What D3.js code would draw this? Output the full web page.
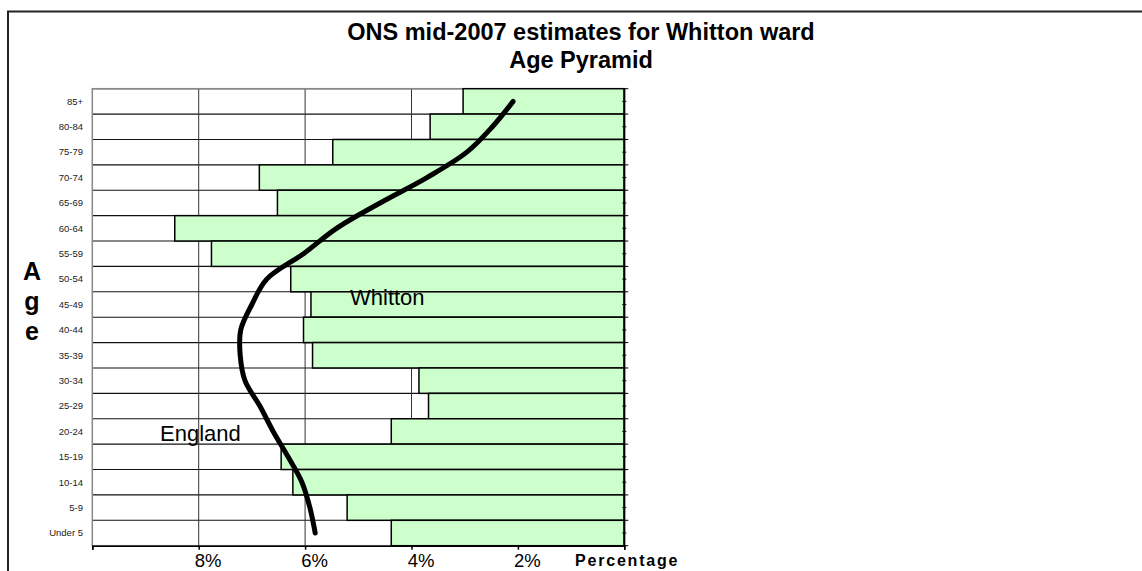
<!DOCTYPE html>
<html>
<head>
<meta charset="utf-8">
<script src="https://cdn.jsdelivr.net/npm/d3@7"></script>
<style>
  html, body { margin: 0; padding: 0; background: #fff; }
  svg { display: block; font-family: Arial, "Liberation Sans", sans-serif; }
</style>
</head>
<body>
<svg id="chart" width="1142" height="571"></svg>
<script>
// ---- Data ----
const categories = ["85+","80-84","75-79","70-74","65-69","60-64","55-59","50-54","45-49","40-44","35-39","30-34","25-29","20-24","15-19","10-14","5-9","Under 5"];
const whittonValues = [3.03,3.65,5.48,6.86,6.52,8.45,7.76,6.27,5.89,6.03,5.86,3.86,3.68,4.38,6.45,6.23,5.21,4.38];
const englandValues = [2.09,2.48,2.96,3.71,4.59,5.41,6.03,6.72,7.00,7.21,7.22,7.13,6.85,6.60,6.32,6.06,5.91,5.81];
const xTickValues = [10,8,6,4,2,0];
const xTickLabels = ["","8%","6%","4%","2%",""];
const titleLines = ["ONS mid-2007 estimates for Whitton ward","Age Pyramid"];
const yTitleLetters = ["A","g","e"];
const xTitle = "Percentage";

// ---- Layout ----
const svg = d3.select("#chart");
const plot = { left: 92.3, right: 624.3, top: 88.7, bottom: 545.7 };

const x = d3.scaleLinear().domain([10, 0]).range([plot.left, plot.right]);
const y = d3.scaleBand().domain(categories).range([plot.top, plot.bottom]).padding(0);

// outer chart border
svg.append("rect")
  .attr("x", 8).attr("y", 11.5).attr("width", 1200).attr("height", 700)
  .attr("fill", "#fff").attr("stroke", "#222").attr("stroke-width", 2);

// plot area background
svg.append("rect")
  .attr("x", plot.left).attr("y", plot.top)
  .attr("width", plot.right - plot.left).attr("height", plot.bottom - plot.top)
  .attr("fill", "#fff");

// horizontal gridlines at category boundaries
const boundaries = categories.map(c => y(c)).concat([plot.bottom]);
svg.append("g").selectAll("line").data(boundaries).join("line")
  .attr("x1", plot.left).attr("x2", plot.right)
  .attr("y1", d => d).attr("y2", d => d)
  .attr("stroke", "#111").attr("stroke-width", 1.1);

// vertical gridlines
svg.append("g").selectAll("line").data([8,6,4,2]).join("line")
  .attr("x1", d => x(d)).attr("x2", d => x(d))
  .attr("y1", plot.top).attr("y2", plot.bottom)
  .attr("stroke", "#333").attr("stroke-width", 1);

// plot border (grey)
svg.append("rect")
  .attr("x", plot.left).attr("y", plot.top)
  .attr("width", plot.right - plot.left).attr("height", plot.bottom - plot.top)
  .attr("fill", "none").attr("stroke", "#888").attr("stroke-width", 1.5);

// Whitton bars
svg.append("g").selectAll("rect").data(categories).join("rect")
  .attr("x", (c, i) => x(whittonValues[i]))
  .attr("y", c => y(c))
  .attr("width", (c, i) => x(0) - x(whittonValues[i]))
  .attr("height", y.bandwidth())
  .attr("fill", "#CCFFCC")
  .attr("stroke", "#000").attr("stroke-width", 1.5);

// bottom axis
const xAxis = d3.axisBottom(x).tickValues(xTickValues)
  .tickFormat((d, i) => xTickLabels[i]).tickSizeOuter(0).tickSize(4);
const gx = svg.append("g").attr("transform", `translate(0,${plot.bottom})`).call(xAxis);
gx.select(".domain").attr("stroke", "#000").attr("stroke-width", 1.5);
gx.selectAll(".tick line").attr("stroke", "#000").attr("stroke-width", 1.5);
gx.selectAll(".tick text")
  .attr("font-size", 18.5).attr("font-family", "Arial, 'Liberation Sans', sans-serif")
  .attr("fill", "#000").attr("y", 8).attr("dy", "0.71em").attr("dx", 9);

// right axis (category axis at 0)
const yAxisLine = svg.append("g");
yAxisLine.append("line")
  .attr("x1", plot.right).attr("x2", plot.right)
  .attr("y1", plot.top).attr("y2", plot.bottom)
  .attr("stroke", "#000").attr("stroke-width", 2);
yAxisLine.selectAll("line.major").data(boundaries).join("line").attr("class", "major")
  .attr("x1", plot.right).attr("x2", plot.right + 4)
  .attr("y1", d => d).attr("y2", d => d)
  .attr("stroke", "#000").attr("stroke-width", 1);
yAxisLine.selectAll("line.minor").data(categories).join("line").attr("class", "minor")
  .attr("x1", plot.right - 2).attr("x2", plot.right + 2)
  .attr("y1", c => y(c) + y.bandwidth() / 2).attr("y2", c => y(c) + y.bandwidth() / 2)
  .attr("stroke", "#000").attr("stroke-width", 1);

// category labels on the left
svg.append("g").selectAll("text").data(categories).join("text")
  .attr("x", 83).attr("y", c => y(c) + y.bandwidth() / 2)
  .attr("dy", "0.35em").attr("text-anchor", "end")
  .attr("font-size", 9.5).attr("fill", "#222")
  .text(c => c);

// England curve
const line = d3.line()
  .x(d => x(d.v))
  .y(d => y(d.c) + y.bandwidth() / 2)
  .curve(d3.curveCatmullRom.alpha(0.5));
svg.append("path")
  .datum(categories.map((c, i) => ({ c, v: englandValues[i] })))
  .attr("d", line)
  .attr("fill", "none").attr("stroke", "#000")
  .attr("stroke-width", 5).attr("stroke-linecap", "round").attr("stroke-linejoin", "round");

// series labels
svg.append("text").attr("x", 350).attr("y", 305)
  .attr("font-size", 22).attr("fill", "#000").text("Whitton");
svg.append("text").attr("x", 160).attr("y", 441)
  .attr("font-size", 22).attr("fill", "#000").text("England");

// title
svg.append("g").selectAll("text").data(titleLines).join("text")
  .attr("x", 581).attr("y", (d, i) => 40 + i * 28)
  .attr("text-anchor", "middle").attr("font-weight", "bold")
  .attr("font-size", 23.5).attr("fill", "#000")
  .text(d => d);

// y axis title (stacked letters)
svg.append("g").selectAll("text").data(yTitleLetters).join("text")
  .attr("x", 32).attr("y", (d, i) => 280 + i * 30)
  .attr("text-anchor", "middle").attr("font-weight", "bold")
  .attr("font-size", 25).attr("fill", "#000")
  .text(d => d);

// x axis title
svg.append("text").attr("x", 575).attr("y", 566)
  .attr("font-weight", "bold").attr("font-size", 16).attr("letter-spacing", 1.8)
  .attr("fill", "#000").text(xTitle);
</script>
</body>
</html>
